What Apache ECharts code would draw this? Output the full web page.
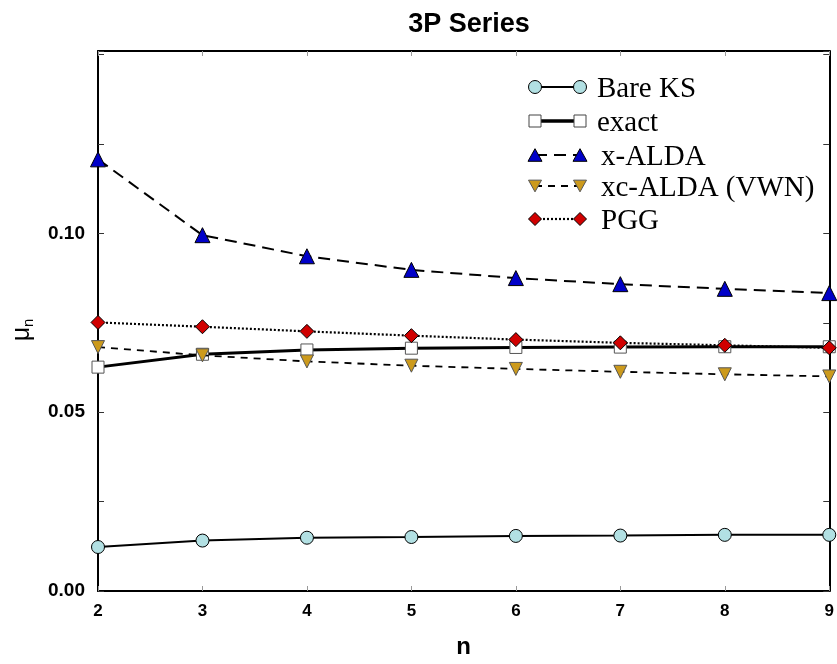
<!DOCTYPE html>
<html>
<head>
<meta charset="utf-8">
<script src="https://cdn.jsdelivr.net/npm/echarts@6/dist/echarts.min.js"></script>
<style>html,body{margin:0;padding:0;background:#fff}#c{width:837px;height:664px}</style>
</head>
<body>
<div id="c"></div>
<script>
const nValues = [2, 3, 4, 5, 6, 7, 8, 9];
const bareKS  = [0.0123, 0.0141, 0.0149, 0.0151, 0.0154, 0.0155, 0.0157, 0.0157];
const exact   = [0.0626, 0.0662, 0.0674, 0.0679, 0.0681, 0.0682, 0.0683, 0.0683];
const xALDA   = [0.1207, 0.0995, 0.0936, 0.0898, 0.0875, 0.0858, 0.0845, 0.0833];
const xcALDA  = [0.0682, 0.0659, 0.0642, 0.0630, 0.0621, 0.0613, 0.0606, 0.0600];
const pgg     = [0.0751, 0.0739, 0.0726, 0.0714, 0.0703, 0.0694, 0.0687, 0.0680];
const seriesNames = ['Bare KS', 'exact', 'x-ALDA', 'xc-ALDA (VWN)', 'PGG'];
const yTickLabels = ['0.00', '0.05', '0.10'];

const pairs = arr => arr.map((v, i) => [nValues[i], v]);

const chart = echarts.init(document.getElementById('c'));

const baseY = {
  type: 'value', min: 0, max: 0.151, interval: 0.025,
  axisLine: { show: true, lineStyle: { color: '#000', width: 2 } },
  axisTick: { show: true, inside: true, length: 6, lineStyle: { color: '#333', width: 1 } },
  splitLine: { show: false }
};
const baseX = {
  type: 'value', min: 2, max: 9, interval: 1,
  axisLine: { show: true, onZero: false, lineStyle: { color: '#000', width: 2 } },
  axisTick: { show: true, inside: true, length: 5, lineStyle: { color: '#999', width: 1 } },
  splitLine: { show: false }
};

// legend drawn as symbol—line—symbol rows
const lgY = [87, 121, 155, 186, 219];
const lgX1 = 535, lgX2 = 580, lgTx = [597, 597, 601, 601, 601];
function tri(cx, cy, s, down) {
  const h = s * 0.9;
  return down ? [[cx - s/2, cy - h/2], [cx + s/2, cy - h/2], [cx, cy + h/2]]
              : [[cx - s/2, cy + h/2], [cx + s/2, cy + h/2], [cx, cy - h/2]];
}
function diamond(cx, cy, s) {
  return [[cx, cy - s/2], [cx + s/2, cy], [cx, cy + s/2], [cx - s/2, cy]];
}
const lineStyles = [
  { stroke: '#000', lineWidth: 2 },
  { stroke: '#000', lineWidth: 3.5 },
  { stroke: '#000', lineWidth: 2, lineDash: [12, 7] },
  { stroke: '#000', lineWidth: 1.8, lineDash: [7, 6] },
  { stroke: '#000', lineWidth: 2.2, lineDash: [2, 2] }
];
function sym(i, cx, cy) {
  switch (i) {
    case 0: return { type: 'circle', shape: { cx, cy, r: 6.5 }, style: { fill: '#b2e0e3', stroke: '#000', lineWidth: 1 } };
    case 1: return { type: 'rect', shape: { x: cx - 6, y: cy - 6, width: 12, height: 12 }, style: { fill: '#fff', stroke: '#444', lineWidth: 1 } };
    case 2: return { type: 'polygon', shape: { points: tri(cx, cy, 14, false) }, style: { fill: '#0000c8', stroke: '#000', lineWidth: 1 } };
    case 3: return { type: 'polygon', shape: { points: tri(cx, cy, 13, true) }, style: { fill: '#cc9a1c', stroke: '#555', lineWidth: 1 } };
    case 4: return { type: 'polygon', shape: { points: diamond(cx, cy, 13) }, style: { fill: '#d00000', stroke: '#000', lineWidth: 1 } };
  }
}
const graphics = [];
seriesNames.forEach((name, i) => {
  const y = lgY[i];
  graphics.push({ type: 'line', shape: { x1: lgX1, y1: y, x2: lgX2, y2: y }, style: lineStyles[i], z: 100 });
  graphics.push(Object.assign(sym(i, lgX1, y), { z: 101 }));
  graphics.push(Object.assign(sym(i, lgX2, y), { z: 101 }));
  graphics.push({ type: 'text', x: lgTx[i], y: y + 2, style: { text: name, fontFamily: 'Liberation Serif', fontSize: 29, fill: '#000', textVerticalAlign: 'middle', textAlign: 'left' }, z: 101 });
});

const option = {
  animation: false,
  backgroundColor: '#fff',
  title: {
    text: '3P Series', left: 464, top: 6, textAlign: 'center',
    textStyle: { fontFamily: 'Liberation Sans', fontWeight: 'bold', fontSize: 27, color: '#000' }
  },
  grid: { left: 98, right: 6, top: 51, bottom: 57 },
  xAxis: [
    Object.assign({}, baseX, {
      position: 'bottom',
      name: 'n', nameLocation: 'middle', nameGap: 44,
      nameTextStyle: { fontFamily: 'Liberation Sans', fontWeight: 'bold', fontSize: 24, color: '#000' },
      axisLabel: { show: true, margin: 12, color: '#000', fontFamily: 'Liberation Sans', fontWeight: 'bold', fontSize: 17 }
    }),
    Object.assign({}, baseX, { position: 'top', axisLabel: { show: false } })
  ],
  yAxis: [
    Object.assign({}, baseY, {
      position: 'left',
      name: '{m|μ}{s|n}', nameLocation: 'middle', nameGap: 62, nameRotate: 90,
      nameTextStyle: { color: '#000', padding: [0, 18, 0, 0], rich: {
        m: { fontFamily: 'Liberation Sans', fontSize: 25, color: '#000' },
        s: { fontFamily: 'Liberation Sans', fontSize: 15, color: '#000', verticalAlign: 'bottom', padding: [12, 0, 0, 0] }
      } },
      axisLabel: {
        show: true, margin: 13, color: '#000', fontFamily: 'Liberation Sans', fontWeight: 'bold', fontSize: 19,
        formatter: v => {
          const k = Math.round(v / 0.05);
          return (Math.abs(v - k * 0.05) < 1e-9 && k < yTickLabels.length) ? yTickLabels[k] : '';
        }
      }
    }),
    Object.assign({}, baseY, { position: 'right', axisLabel: { show: false } })
  ],
  graphic: graphics,
  series: [
    { name: seriesNames[0], type: 'line', data: pairs(bareKS), symbol: 'circle', symbolSize: 13,
      lineStyle: { color: '#000', width: 2 }, itemStyle: { color: '#b2e0e3', borderColor: '#000', borderWidth: 1 }, z: 3 },
    { name: seriesNames[1], type: 'line', data: pairs(exact), symbol: 'rect', symbolSize: 12,
      lineStyle: { color: '#000', width: 3 }, itemStyle: { color: '#fff', borderColor: '#555', borderWidth: 1 }, z: 3 },
    { name: seriesNames[2], type: 'line', data: pairs(xALDA), symbol: 'triangle', symbolSize: 15,
      lineStyle: { color: '#000', width: 2, type: [12, 7] }, itemStyle: { color: '#0000c8', borderColor: '#000', borderWidth: 1 }, z: 4 },
    { name: seriesNames[3], type: 'line', data: pairs(xcALDA), symbol: 'triangle', symbolRotate: 180, symbolSize: 13,
      lineStyle: { color: '#000', width: 1.8, type: [7, 6] }, itemStyle: { color: '#cc9a1c', borderColor: '#555', borderWidth: 1 }, z: 4 },
    { name: seriesNames[4], type: 'line', data: pairs(pgg), symbol: 'diamond', symbolSize: 14,
      lineStyle: { color: '#000', width: 2.2, type: [2, 2] }, itemStyle: { color: '#d00000', borderColor: '#000', borderWidth: 1 }, z: 4 }
  ]
};
chart.setOption(option);
</script>
</body>
</html>
